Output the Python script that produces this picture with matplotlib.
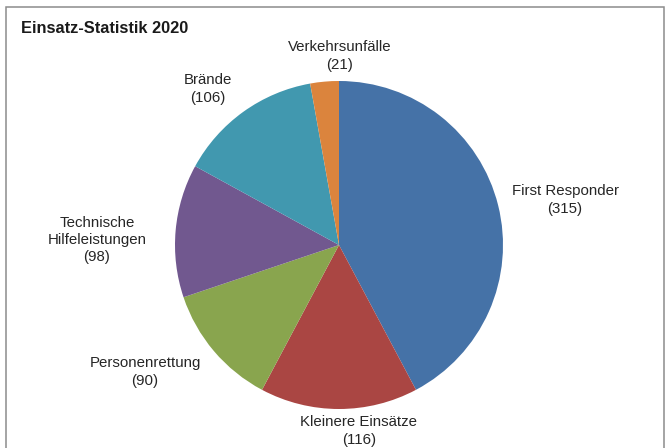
import matplotlib.pyplot as plt
from matplotlib.patches import Rectangle

# Einsatz-Statistik 2020
categories = ['First Responder', 'Kleinere Einsätze', 'Personenrettung',
              'Technische\nHilfeleistungen', 'Brände', 'Verkehrsunfälle']
counts = [315, 116, 90, 98, 106, 21]
colors = ['#4572A7', '#AA4643', '#89A54E', '#71588F', '#4198AF', '#DB843D']

# label centres in pixel coordinates (x, y from bottom)
label_pos = [(565, 248), (359, 17), (145, 76), (97, 208), (208, 359), (340, 392)]

plt.rcParams['font.family'] = ['Liberation Sans', 'DejaVu Sans']

fig = plt.figure(figsize=(6.65, 4.48), dpi=100)
ax = fig.add_axes([0, 0, 1, 1])

# outer frame
fig.patches.append(Rectangle((6 / 665, -0.01), 658 / 665, 1 - 7.5 / 448 + 0.01,
                             transform=fig.transFigure, fill=False,
                             edgecolor='#8c8c8c', linewidth=1.1))

ax.pie(counts, colors=colors, startangle=90, counterclock=False,
       center=(339, 203), radius=164, frame=True,
       wedgeprops=dict(linewidth=0))
ax.set_xlim(0, 665)
ax.set_ylim(0, 448)
ax.set_aspect('equal')
ax.axis('off')

for name, n, (x, y) in zip(categories, counts, label_pos):
    ax.text(x, y, f'{name}\n({n})', ha='center', va='center',
            fontsize=10.8, color='#262626', linespacing=1.3)

ax.text(21, 420, 'Einsatz-Statistik 2020', ha='left', va='center',
        fontsize=11.8, fontweight='bold', color='#1a1a1a')

fig.savefig('out.png', dpi=100)
